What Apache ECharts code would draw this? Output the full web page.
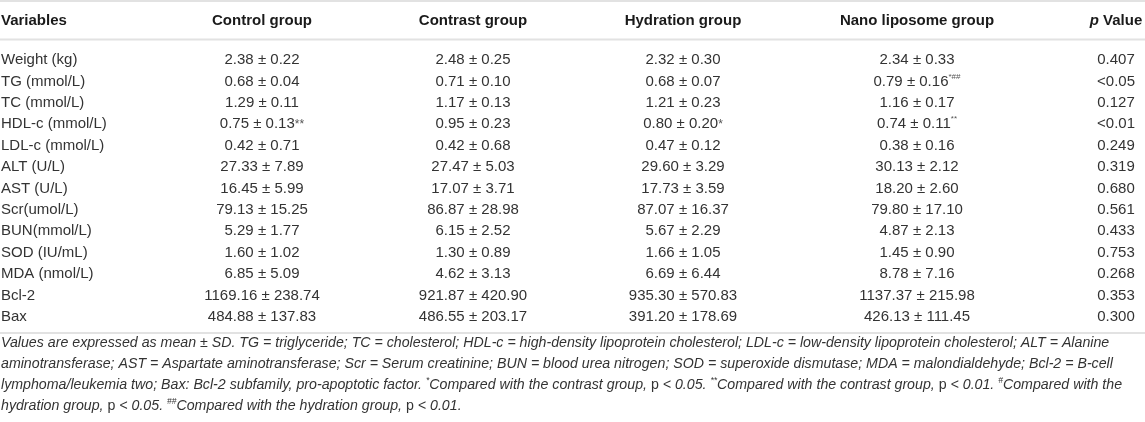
<!DOCTYPE html>
<html>
<head>
<meta charset="utf-8">
<script src="https://cdn.jsdelivr.net/npm/echarts@6/dist/echarts.min.js"></script>
<style>
  html, body { margin: 0; padding: 0; background: #fff; }
  #chart { width: 1145px; height: 422px; }
</style>
</head>
<body>
<div id="chart"></div>
<script>
;(function() {
  // table data
  var headers = ['Variables', 'Control group', 'Contrast group', 'Hydration group', 'Nano liposome group', '{i|p} Value'];
  var variables = ['Weight (kg)', 'TG (mmol/L)', 'TC (mmol/L)', 'HDL-c (mmol/L)', 'LDL-c (mmol/L)', 'ALT (U/L)',
    'AST (U/L)', 'Scr(umol/L)', 'BUN(mmol/L)', 'SOD (IU/mL)', 'MDA (nmol/L)', 'Bcl-2', 'Bax'];
  // "|" = small mark after value, "^" = superscript mark
  var control = ['2.38 ± 0.22', '0.68 ± 0.04', '1.29 ± 0.11', '0.75 ± 0.13|**', '0.42 ± 0.71', '27.33 ± 7.89',
    '16.45 ± 5.99', '79.13 ± 15.25', '5.29 ± 1.77', '1.60 ± 1.02', '6.85 ± 5.09', '1169.16 ± 238.74', '484.88 ± 137.83'];
  var contrast = ['2.48 ± 0.25', '0.71 ± 0.10', '1.17 ± 0.13', '0.95 ± 0.23', '0.42 ± 0.68', '27.47 ± 5.03',
    '17.07 ± 3.71', '86.87 ± 28.98', '6.15 ± 2.52', '1.30 ± 0.89', '4.62 ± 3.13', '921.87 ± 420.90', '486.55 ± 203.17'];
  var hydration = ['2.32 ± 0.30', '0.68 ± 0.07', '1.21 ± 0.23', '0.80 ± 0.20|*', '0.47 ± 0.12', '29.60 ± 3.29',
    '17.73 ± 3.59', '87.07 ± 16.37', '5.67 ± 2.29', '1.66 ± 1.05', '6.69 ± 6.44', '935.30 ± 570.83', '391.20 ± 178.69'];
  var nano = ['2.34 ± 0.33', '0.79 ± 0.16^*##', '1.16 ± 0.17', '0.74 ± 0.11^**', '0.38 ± 0.16', '30.13 ± 2.12',
    '18.20 ± 2.60', '79.80 ± 17.10', '4.87 ± 2.13', '1.45 ± 0.90', '8.78 ± 7.16', '1137.37 ± 215.98', '426.13 ± 111.45'];
  var pValues = ['0.407', '<0.05', '0.127', '<0.01', '0.249', '0.319', '0.680', '0.561', '0.433', '0.753', '0.268', '0.353', '0.300'];
  var notes = [
    'Values are expressed as mean ± SD. TG = triglyceride; TC = cholesterol; HDL-c = high-density lipoprotein cholesterol; LDL-c = low-density lipoprotein cholesterol; ALT = Alanine',
    'aminotransferase; AST = Aspartate aminotransferase; Scr = Serum creatinine; BUN = blood urea nitrogen; SOD = superoxide dismutase; MDA = malondialdehyde; Bcl-2 = B-cell',
    'lymphoma/leukemia two; Bax: Bcl-2 subfamily, pro-apoptotic factor. {s|*}Compared with the contrast group, {n|p} < 0.05. {s|**}Compared with the contrast group, {n|p} < 0.01. {s|#}Compared with the',
    'hydration group, {n|p} < 0.05. {s|##}Compared with the hydration group, {n|p} < 0.01.'
  ];

  var columns = [variables, control, contrast, hydration, nano, pValues];

  // layout
  var FONT = '"Liberation Sans", Arial, Helvetica, sans-serif';
  var colX = [1, 262, 473, 683, 917, 1116];
  var textColor = '#333';
  var ruleColor = '#e2e2e2';
  var noteSize = 14.2;

  var cells = [];
  columns.forEach(function(col, c) {
    col.forEach(function(v, r) { cells.push([c, r]); });
  });

  function cellText(str) {
    var sup = str.split('^');
    if(sup.length > 1) return '{v|' + sup[0] + '}{s|' + sup[1] + '}';
    var mk = str.split('|');
    if(mk.length > 1) return '{v|' + mk[0] + '}{m|' + mk[1] + '}';
    return '{v|' + str + '}';
  }

  var graphic = [];
  [1, 39.5, 333].forEach(function(y) {
    graphic.push({ type: 'line', shape: { x1: 0, y1: y, x2: 1145, y2: y }, style: { stroke: ruleColor, lineWidth: 2 }, silent: true });
  });
  headers.forEach(function(h, c) {
    graphic.push({
      type: 'text', x: colX[c], y: 21,
      style: {
        text: h, font: 'bold 15px ' + FONT, fill: '#1a1a1a',
        textAlign: c === 0 ? 'left' : 'center', textVerticalAlign: 'middle',
        rich: { i: { font: 'italic bold 15px ' + FONT, fill: '#1a1a1a' } }
      }
    });
  });
  notes.forEach(function(line, i) {
    graphic.push({
      type: 'text', x: 1, y: 343.5 + i * 20.7,
      style: {
        text: line, font: 'italic ' + noteSize + 'px ' + FONT, fill: textColor,
        textAlign: 'left', textVerticalAlign: 'middle',
        rich: {
          s: { font: 'italic 8.5px ' + FONT, fill: textColor, verticalAlign: 'top', lineHeight: 9 },
          n: { font: noteSize + 'px ' + FONT, fill: textColor, lineHeight: 17 }
        }
      }
    });
  });

  var option = {
    animation: false,
    backgroundColor: '#fff',
    grid: { left: 0, right: 0, top: 49.3, height: 278.2 },
    xAxis: { type: 'value', min: 0, max: 1145, show: false },
    yAxis: { type: 'category', data: variables, inverse: true, show: false },
    graphic: graphic,
    series: [{
      type: 'custom',
      coordinateSystem: 'cartesian2d',
      data: cells,
      silent: true,
      renderItem: function(params, api) {
        var c = api.value(0), r = api.value(1);
        var pt = api.coord([colX[c], r]);
        return {
          type: 'text', x: pt[0], y: pt[1],
          style: {
            text: c === 0 ? '{v|' + columns[c][r] + '}' : cellText(columns[c][r]),
            textAlign: c === 0 ? 'left' : 'center', textVerticalAlign: 'middle',
            font: '15px ' + FONT, fill: textColor,
            rich: {
              v: { font: '15px ' + FONT, fill: textColor, lineHeight: 18 },
              m: { font: '12px ' + FONT, fill: '#555', lineHeight: 18 },
              s: { font: '8px ' + FONT, fill: '#555', verticalAlign: 'top', lineHeight: 9 }
            }
          }
        };
      }
    }]
  };

  var chart = echarts.init(document.getElementById('chart'));
  chart.setOption(option);
})();
</script>
</body>
</html>
